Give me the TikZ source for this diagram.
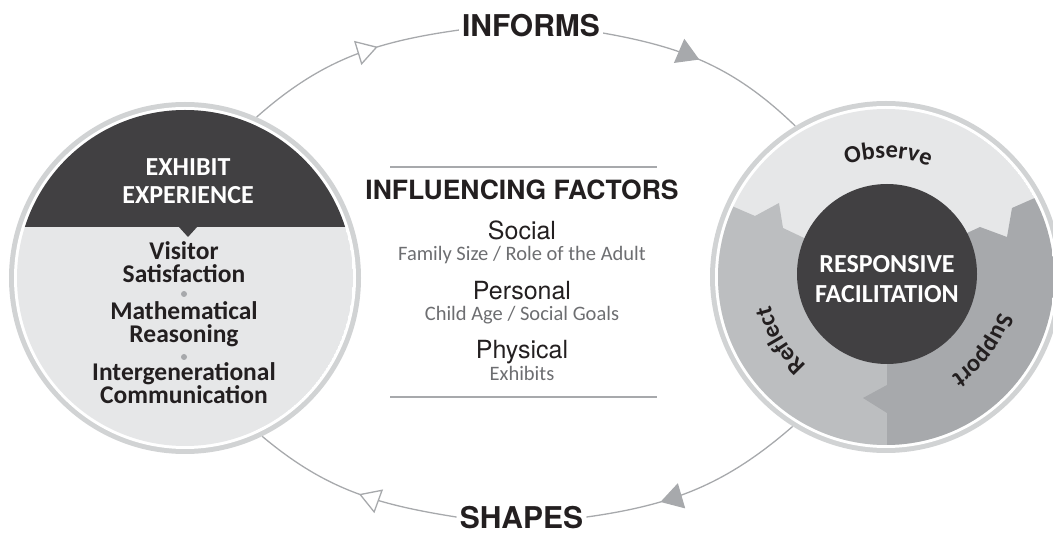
\documentclass[tikz,border=0pt]{standalone}
\usepackage{fontspec}
\setmainfont{Carlito}
\newfontfamily\heros{TeX Gyre Heros}
\newfontfamily\calib{Carlito}
\usetikzlibrary{arrows.meta,decorations.markings,decorations.text}
\definecolor{darkfill}{HTML}{414042}
\definecolor{lightfill}{HTML}{E6E7E8}
\definecolor{midfill}{HTML}{BCBEC0}
\definecolor{deepfill}{HTML}{A7A9AC}
\definecolor{ringgrey}{HTML}{D1D3D4}
\definecolor{txt}{HTML}{231F20}
\definecolor{subtxt}{HTML}{6D6E71}
\definecolor{arcgrey}{HTML}{A7A9AC}
\definecolor{rulegrey}{HTML}{A7A9AC}
\newcommand{\arcfont}{\calib\bfseries\fontsize{24.5}{24.5}\selectfont}
\tikzset{
  hub/.style={circle, minimum size=352pt, inner sep=0pt},
  flowlabel/.style={font=\heros\bfseries\fontsize{30}{30}\selectfont, text=txt, inner xsep=3pt, inner ysep=0pt, anchor=base},
  flowline/.style={draw=arcgrey, line width=1.3pt},
  openhead/.style={postaction={decorate, decoration={markings, mark=at position #1 with {\arrow[arcgrey]{Triangle[fill=white, line width=1.3pt, length=21pt, width=25pt]}}}}},
  fullhead/.style={postaction={decorate, decoration={markings, mark=at position #1 with {\arrow[arcgrey]{Triangle[length=22pt, width=26pt]}}}}},
  boxtitle/.style={font=\calib\bfseries\fontsize{26}{26}\selectfont, text=white, anchor=base, inner sep=0pt},
  outcome/.style={font=\calib\bfseries\fontsize{25.5}{25.5}\selectfont, text=txt, anchor=base, inner sep=0pt},
  facthead/.style={font=\heros\bfseries\fontsize{26.5}{26.5}\selectfont, text=txt, anchor=base, inner sep=0pt},
  factname/.style={font=\heros\fontsize{25}{25}\selectfont, text=txt, anchor=base, inner sep=0pt},
  factsub/.style={font=\calib\fontsize{20.5}{20.5}\selectfont, text=subtxt, anchor=base, inner sep=0pt},
  arctext/.style={decorate, decoration={text along path, text align=center, text color=txt, text={|\arcfont|#1}}},
  sepdot/.style={circle, fill=arcgrey, inner sep=0pt, minimum size=6pt},
}
\begin{document}
\begin{tikzpicture}[x=1pt,y=1pt]
\useasboundingbox (0,0) rectangle (1053,-534);

% hubs
\node[hub] (L) at (185,-278) {};
\node[hub] (R) at (886,-277) {};

% left circle
\fill[ringgrey] (L.center) circle (176);
\fill[white] (L.center) circle (171);
\begin{scope}
  \clip (L.center) circle (168);
  \fill[lightfill] (L.center) circle (168);
  \fill[darkfill] (0,-227) rectangle (400,-90);
\end{scope}
\fill[darkfill] (178,-226) -- (198,-226) -- (188,-237) -- cycle;

\node[boxtitle] (ex1) at (188,-176) {EXHIBIT};
\node[boxtitle] (ex2) at (188,-204) {EXPERIENCE};
\node[outcome] (o1) at (184,-260) {Visitor};
\node[outcome] (o2) at (184,-283) {Satisfaction};
\node[sepdot] (d1) at (184,-294) {};
\node[outcome] (o3) at (184,-320) {Mathematical};
\node[outcome] (o4) at (184,-343) {Reasoning};
\node[sepdot] (d2) at (184,-357) {};
\node[outcome] (o5) at (184,-381) {Intergenerational};
\node[outcome] (o6) at (184,-404) {Communication};

% right circle
\fill[ringgrey] (R.center) circle (176);
\fill[white] (R.center) circle (171);
\begin{scope}
  \clip (R.center) circle (168);
  \fill[lightfill] (R.center) circle (168);
  \fill[midfill] (690,-188) -- (755,-216) -- (779,-203) -- (783,-228) -- (802,-237)
     -- (887,-277) -- (887,-480) -- (690,-480) -- cycle;
  \fill[deepfill] (1080,-178) -- (1012,-208) -- (1007,-237) -- (980,-227) -- (967,-233)
     -- (887,-277) -- (887,-385) -- (863,-398) -- (887,-413) -- (887,-480) -- (1080,-480) -- cycle;
\end{scope}
\fill[darkfill] (887,-274) circle (90);
\node[boxtitle] (rf1) at (887,-273) {RESPONSIVE};
\node[boxtitle] (rf2) at (887,-303) {FACILITATION};

\path[arctext=Observe] (R.center) ++(129:119) arc[start angle=129, end angle=49, radius=119];
\path[arctext=Reflect] (R.center) ++(251:119) arc[start angle=251, end angle=171, radius=119];
\path[arctext=Support] (R.center) ++(3:119) arc[start angle=3, end angle=-77, radius=119];

% flow labels
\node[flowlabel] (INF) at (531,-37) {INFORMS};
\node[flowlabel] (SHA) at (521.5,-529) {SHAPES};

% connectors
\draw[flowline, openhead=0.63] (L.66) to[out=41.5,in=188] ([yshift=-4pt]INF.west);
\draw[flowline, fullhead=0.46] ([yshift=-7pt]INF.east) to[out=-10,in=136] (R.121);
\draw[flowline, fullhead=0.67] (R.-122) to[out=221,in=8] ([yshift=1pt]SHA.east);
\draw[flowline, openhead=0.47] ([yshift=1pt]SHA.west) to[out=171,in=-40] (L.-64);

% influencing factors
\draw[rulegrey, line width=2pt] (390,-167) -- (657,-167);
\draw[rulegrey, line width=2pt] (390,-397) -- (657,-397);
\node[facthead] (IF) at (522,-200) {INFLUENCING FACTORS};
\node[factname] (f1) at (522,-240) {Social};
\node[factsub] (s1) at (522,-261) {Family Size / Role of the Adult};
\node[factname] (f2) at (522,-300) {Personal};
\node[factsub] (s2) at (522,-321) {Child Age / Social Goals};
\node[factname] (f3) at (522,-359) {Physical};
\node[factsub] (s3) at (522,-381) {Exhibits};
\end{tikzpicture}
\end{document}
